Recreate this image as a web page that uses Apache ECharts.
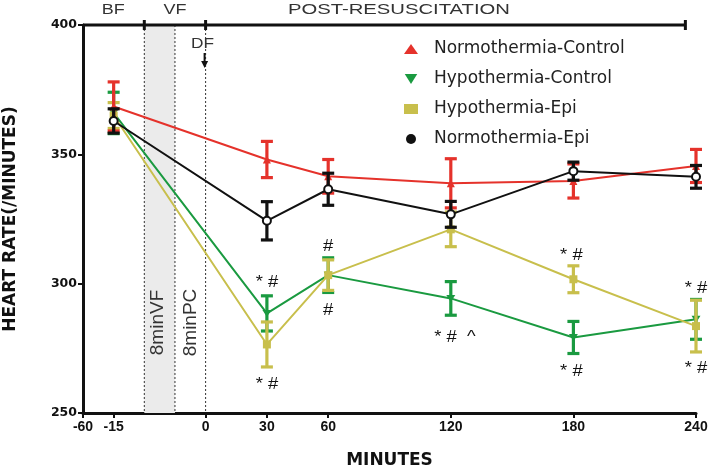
<!DOCTYPE html>
<html>
<head>
<meta charset="utf-8">
<script src="https://cdn.jsdelivr.net/npm/echarts@6/dist/echarts.min.js"></script>
<style>html,body{margin:0;padding:0;background:#fff}#c{width:709px;height:470px}</style>
</head>
<body>
<div id="c"></div>
<script>
// ---- data ----
const times = [-15, 30, 60, 120, 180, 240];
const xTickLabels = [-60, -15, 0, 30, 60, 120, 180, 240];
const yTicks = [250, 300, 350, 400];
const seriesNames = ['Normothermia-Control', 'Hypothermia-Control', 'Hypothermia-Epi', 'Normothermia-Epi'];
const normoControl = [368.5, 348, 341.5, 338.8, 339.7, 345.5];
const normoControlErr = [9.5, 7, 6.5, 9.5, 6.6, 6.4];
const hypoControl = [366, 288.5, 303.3, 294.3, 279.2, 286.2];
const hypoControlErr = [8, 6.8, 6.7, 6.5, 6.2, 7.7];
const hypoEpi = [365, 276.5, 303.3, 321, 301.7, 283.6];
const hypoEpiErr = [5, 8.7, 5.9, 6.7, 5.2, 10];
const normoEpi = [362.9, 324.3, 336.5, 326.8, 343.5, 341.3];
const normoEpiErr = [4.7, 7.4, 6.2, 5, 3.5, 4.4];
const annotations = [
  [30, 300.5, '* #'], [30, 261, '* #'],
  [60, 314.5, '#'], [60, 289.5, '#'],
  [122, 279.2, '* #  ^'],
  [179, 311, '* #'], [179, 266, '* #'],
  [240, 298.2, '* #'], [240, 267.2, '* #']
];

// axis scale: the baseline segment is compressed (-60..-15 drawn over 15 units)
function toAxis(t) { return t < 0 ? (t <= -15 ? -45 - (-15 - t) / 3 : t * 3) : t; }
function fromAxis(v) { return v < 0 ? (v <= -45 ? -15 - (-45 - v) * 3 : v / 3) : v; }
const xTickPos = xTickLabels.map(toAxis);

const FONT = '"Liberation Sans", Arial, sans-serif';
const WIDE = '"DejaVu Sans", sans-serif';
const chart = echarts.init(document.getElementById('c'));

function mk(vals) { return times.map((t, i) => [toAxis(t), vals[i]]); }
function mkErr(vals, errs) { return times.map((t, i) => [toAxis(t), vals[i] - errs[i], vals[i] + errs[i]]); }

function errSeries(name, color, vals, errs, z) {
  return {
    type: 'custom', name: name, z: z, silent: true,
    data: mkErr(vals, errs),
    renderItem: function (params, api) {
      const x = api.value(0);
      const lo = api.coord([x, api.value(1)]);
      const hi = api.coord([x, api.value(2)]);
      const w = 6;
      const st = { stroke: color, lineWidth: 3.2 };
      return { type: 'group', children: [
        { type: 'line', shape: { x1: lo[0], y1: lo[1], x2: hi[0], y2: hi[1] }, style: st },
        { type: 'line', shape: { x1: lo[0] - w, y1: lo[1], x2: lo[0] + w, y2: lo[1] }, style: st },
        { type: 'line', shape: { x1: hi[0] - w, y1: hi[1], x2: hi[0] + w, y2: hi[1] }, style: st }
      ]};
    }
  };
}
function lineSeries(name, color, vals, symbol, size, z, extra) {
  return Object.assign({
    type: 'line', name: name, z: z, data: mk(vals),
    symbol: symbol, symbolSize: size, showAllSymbol: true,
    lineStyle: { color: color, width: 2 },
    itemStyle: { color: color },
    emphasis: { disabled: true }, animation: false
  }, extra || {});
}

const colors = { nc: '#e5322b', hc: '#1a9a40', he: '#c8bf4c', ne: '#111111' };
const invTri = 'path://M0,0 L10,0 L5,8 Z';

const decor = {
  type: 'custom', silent: true, z: 1, clip: false,
  data: [[0]],
  renderItem: function (params, api) {
    const c = (x, y) => api.coord([x, y]);
    const yTop = c(0, 400)[1], yBot = c(0, 250)[1];
    const xVF = c(-30, 0)[0], xPC = c(-15, 0)[0], xDF = c(0, 0)[0];
    const xL = c(-60, 0)[0], xEnd = c(234.8, 0)[0];
    const dash = { stroke: '#333', lineWidth: 1, lineDash: [2, 2] };
    const kids = [
      { type: 'rect', shape: { x: xVF, y: yTop, width: xPC - xVF, height: yBot - yTop }, style: { fill: '#ebebeb' } },
      { type: 'line', shape: { x1: xVF, y1: yTop, x2: xVF, y2: yBot }, style: dash },
      { type: 'line', shape: { x1: xPC, y1: yTop, x2: xPC, y2: yBot }, style: dash },
      { type: 'line', shape: { x1: xDF, y1: yTop, x2: xDF, y2: yBot }, style: dash },
      { type: 'line', shape: { x1: xL, y1: yTop, x2: xEnd, y2: yTop }, style: { stroke: '#111', lineWidth: 3 } }
    ];
    [xVF, xDF, xEnd].forEach(function (x) {
      kids.push({ type: 'line', shape: { x1: x, y1: yTop - 5, x2: x, y2: yTop + 5 }, style: { stroke: '#111', lineWidth: 3 } });
    });
    const tstyle = (txt, x, y, sz, sx) => ({ type: 'text', x: x, y: y, scaleX: sx,
      style: { text: txt, fill: '#333', font: sz + 'px ' + FONT, align: 'center', verticalAlign: 'middle' } });
    kids.push(tstyle('BF', c(-45, 0)[0] - 0.5, 10, 15, 1.2));
    kids.push(tstyle('VF', 175, 10, 15, 1.2));
    kids.push(tstyle('POST-RESUSCITATION', c(94.6, 0)[0], 10, 15, 1.35));
    kids.push(tstyle('DF', xDF - 3, 44, 15, 1.15));
    kids.push({ type: 'line', shape: { x1: xDF - 1, y1: 53, x2: xDF - 1, y2: 62 }, style: { stroke: '#111', lineWidth: 2 } });
    kids.push({ type: 'polygon', shape: { points: [[xDF - 4.5, 61], [xDF + 2.5, 61], [xDF - 1, 68]] }, style: { fill: '#111' } });
    const vy = c(0, 285)[1];
    [['8minVF', xVF + 13], ['8minPC', (xPC + xDF) / 2]].forEach(function (p) {
      kids.push({ type: 'text', x: p[1], y: vy, rotation: Math.PI / 2,
        style: { text: p[0], fill: '#333', font: '19px ' + FONT, align: 'center', verticalAlign: 'middle' } });
    });
    return { type: 'group', children: kids };
  }
};

const annoSeries = {
  type: 'custom', silent: true, z: 20, clip: false,
  data: annotations.map(a => [toAxis(a[0]), a[1]]),
  renderItem: function (params, api) {
    const p = api.coord([api.value(0), api.value(1)]);
    return { type: 'text', x: p[0], y: p[1], scaleX: 1.15,
      style: { text: annotations[params.dataIndex][2], fill: '#111', font: '16px ' + FONT, align: 'center', verticalAlign: 'middle' } };
  }
};

chart.setOption({
  animation: false,
  grid: { left: 83, right: 13, top: 25, bottom: 57, containLabel: false, outerBoundsMode: 'none' },
  xAxis: {
    type: 'value', min: -60, max: 240,
    name: 'MINUTES', nameLocation: 'middle', nameGap: 39,
    nameTextStyle: { fontFamily: WIDE, fontWeight: 'bold', fontSize: 17, color: '#111' },
    axisLine: { show: true, onZero: false, lineStyle: { color: '#111', width: 3 } },
    axisTick: { show: true, customValues: xTickPos, length: 5, lineStyle: { color: '#111', width: 2 } },
    axisLabel: { customValues: xTickPos, formatter: v => String(Math.round(fromAxis(v))), margin: 7,
      fontFamily: FONT, fontWeight: 'bold', fontSize: 14, color: '#111' },
    splitLine: { show: false }
  },
  yAxis: {
    type: 'value', min: 250, max: 400, interval: 50,
    name: 'HEART RATE(/MINUTES)', nameLocation: 'middle', nameGap: 64,
    nameTextStyle: { fontFamily: WIDE, fontWeight: 'bold', fontSize: 17, color: '#111' },
    axisLine: { show: true, onZero: false, lineStyle: { color: '#111', width: 3 } },
    axisTick: { show: true, length: 5, lineStyle: { color: '#111', width: 2 } },
    axisLabel: { customValues: yTicks, margin: 6, fontFamily: WIDE, fontWeight: 'bold', fontSize: 12.5, color: '#111' },
    splitLine: { show: false }
  },
  legend: {
    orient: 'vertical', left: 399, top: 35, itemGap: 12,
    itemWidth: 14, itemHeight: 10,
    textStyle: { fontFamily: WIDE, fontSize: 17, color: '#222', lineHeight: 18, padding: [0, 0, 0, 11] },
    data: [
      { name: seriesNames[0], icon: 'triangle', itemStyle: { color: colors.nc } },
      { name: seriesNames[1], icon: invTri, itemStyle: { color: colors.hc } },
      { name: seriesNames[2], icon: 'rect', itemStyle: { color: colors.he } },
      { name: seriesNames[3], icon: 'circle', itemStyle: { color: colors.ne } }
    ]
  },
  series: [
    decor,
    errSeries(seriesNames[1], colors.hc, hypoControl, hypoControlErr, 3),
    lineSeries(seriesNames[1], colors.hc, hypoControl, invTri, [9, 7], 4),
    errSeries(seriesNames[2], colors.he, hypoEpi, hypoEpiErr, 5),
    lineSeries(seriesNames[2], colors.he, hypoEpi, 'rect', 8, 6),
    errSeries(seriesNames[0], colors.nc, normoControl, normoControlErr, 7),
    lineSeries(seriesNames[0], colors.nc, normoControl, 'triangle', 8, 8),
    errSeries(seriesNames[3], colors.ne, normoEpi, normoEpiErr, 9),
    lineSeries(seriesNames[3], colors.ne, normoEpi, 'emptyCircle', 8, 10, { itemStyle: { color: colors.ne, borderWidth: 2.5 } }),
    annoSeries
  ]
});
</script>
</body>
</html>
